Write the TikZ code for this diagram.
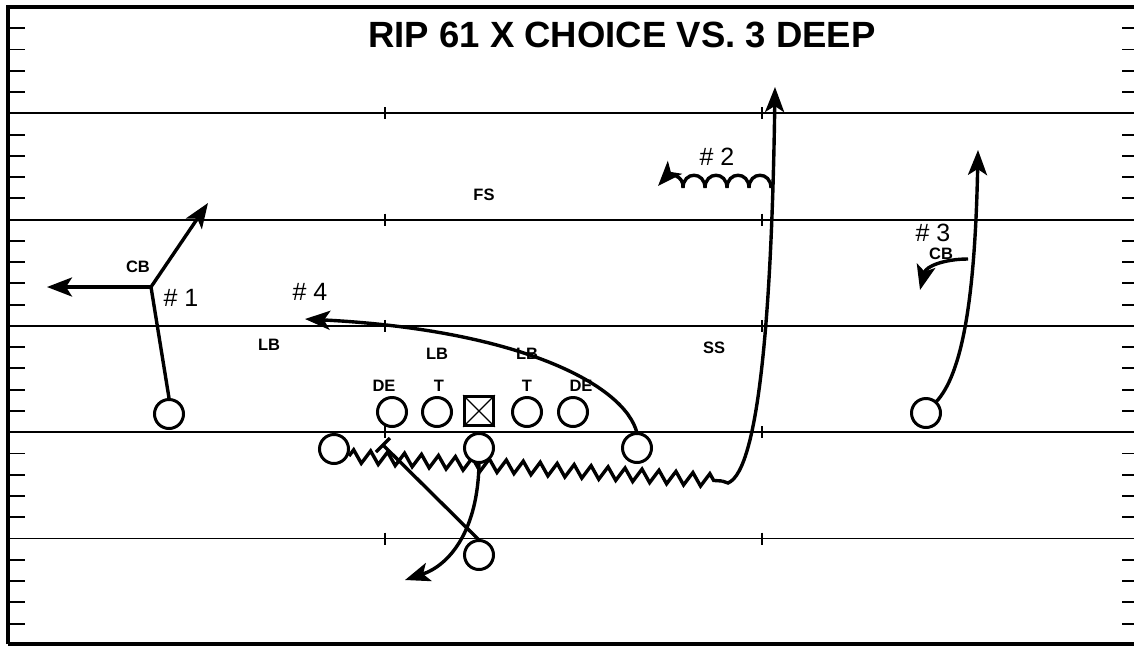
\documentclass[tikz,border=0pt]{standalone}
\usepackage{fontspec}
\setmainfont{Liberation Sans}
\usetikzlibrary{arrows.meta,decorations.pathmorphing}
\begin{document}
\begin{tikzpicture}[x=1pt,y=-1pt,
  fieldline/.style={line width=1.9pt},
  frameline/.style={line width=4pt},
  yardtick/.style={line width=1.9pt},
  player/.style={circle,draw,line width=3pt,minimum size=29pt,inner sep=0pt,fill=white},
  route/.style={line width=3.4pt},
  arr/.style={route,-{Stealth[length=25pt,width=19pt,inset=6pt]}},
  lbl/.style={font=\fontsize{16.5}{18}\selectfont\bfseries,inner sep=0pt},
  num/.style={font=\fontsize{25}{28}\selectfont,inner sep=0pt},
]
\useasboundingbox (0,0) rectangle (1134,646);
% field lines and hash marks
\foreach \y in {113.3,219.6,325.9,432.2,538.5} {
  \draw[fieldline] (8,\y) -- (1134,\y);
  \draw[yardtick] (385,\y-6) -- (385,\y+6);
  \draw[yardtick] (762,\y-6) -- (762,\y+6);
}
\foreach \b in {0,...,5} {
  \foreach \j in {1,...,4} {
    \pgfmathsetmacro\yy{7+106.3*\b+21.26*\j}
    \draw[yardtick] (8,\yy) -- (25,\yy);
    \draw[yardtick] (1122,\yy) -- (1134,\yy);
  }
}
% frame
\draw[frameline] (8,644) -- (8,7) -- (1134,7);
\draw[frameline] (8,644) -- (1134,644);

% title
\node[font=\fontsize{36.5}{40}\selectfont\bfseries,inner sep=0pt] (title) at (622,35) {RIP 61 X CHOICE VS. 3 DEEP};

% defensive labels
\node[lbl] (cb1) at (138,267) {CB};
\node[lbl] (lb1) at (269,345) {LB};
\node[lbl] (fs) at (484,195) {FS};
\node[lbl] (lb2) at (437,354) {LB};
\node[lbl] (lb3) at (527,354) {LB};
\node[lbl] (ss) at (714,348) {SS};
\node[lbl] (de1l) at (384,386) {DE};
\node[lbl] (t1l) at (439,386) {T};
\node[lbl] (t2l) at (527,386) {T};
\node[lbl] (de2l) at (581,386) {DE};
\node[lbl] (cb2) at (941,254) {CB};

% route numbers
\node[num] (n1) at (181,298) {\# 1};
\node[num] (n4) at (310,292) {\# 4};
\node[num] (n2) at (717,157) {\# 2};
\node[num] (n3) at (933,233) {\# 3};

% coordinates for routes
\coordinate (b1) at (151,287);
\coordinate (t1a) at (208,203);
\coordinate (t1b) at (47,287);
\coordinate (t4) at (305,319);
\coordinate (z0) at (349,456);
\coordinate (z1) at (722,481);
\coordinate (z2) at (728,483);
\coordinate (tdeep) at (775,87);
\coordinate (c0) at (771,188);
\coordinate (t2) at (658,186);
\coordinate (tqb) at (405,580);
\coordinate (blk) at (383,445);
\coordinate (blka) at (376,452);
\coordinate (blkb) at (390,438);
\coordinate (t3) at (978,150);
\coordinate (cbs) at (968,259);
\coordinate (tcb) at (920,290);

% players
\node[player] (wr1) at (169,414) {};
\node[player] (de1) at (392,412) {};
\node[player] (tk1) at (437,412) {};
\node[draw,line width=3.2pt,minimum size=28.5pt,inner sep=0pt,fill=white] (ctr) at (479,411) {};
\draw[line width=1.3pt] (ctr.north west) -- (ctr.south east) (ctr.north east) -- (ctr.south west);
\node[player] (tk2) at (527,412) {};
\node[player] (de2) at (573,412) {};
\node[player] (wr2) at (926,413) {};

% routes
\draw[route] (wr1.north) -- (b1);
\draw[arr] (b1) -- (t1a);
\draw[arr] (b1) -- (t1b);
\draw[arr] (637,433) .. controls (625,385) and (520,330) .. (t4);
\draw[route,decorate,decoration={zigzag,segment length=17pt,amplitude=6.5pt}] (z0) -- (z1);
\draw[arr] (z1) -- (z2) .. controls (760,470) and (772,300) .. (tdeep);
\draw[arr] (c0) .. controls (771,171) and (749,171) .. (749,188)
  .. controls (749,171) and (727,171) .. (727,188)
  .. controls (727,171) and (705,171) .. (705,188)
  .. controls (705,171) and (683,171) .. (683,188)
  .. controls (684,174) and (668,175) .. (t2);
\draw[arr] (479,463) .. controls (478,530) and (450,565) .. (tqb);
\draw[route] (479,540) -- (blk);
\draw[route] (blka) -- (blkb);
\draw[arr] (935.6,402.4) .. controls (962,375) and (975,300) .. (t3);
\draw[arr] (cbs) .. controls (945,259) and (926,266) .. (tcb);

% backfield players drawn on top
\node[player] (slot1) at (334,449) {};
\node[player] (qb) at (479,448) {};
\node[player] (slot2) at (637,448) {};
\node[player] (rb) at (479,555) {};
\end{tikzpicture}
\end{document}
